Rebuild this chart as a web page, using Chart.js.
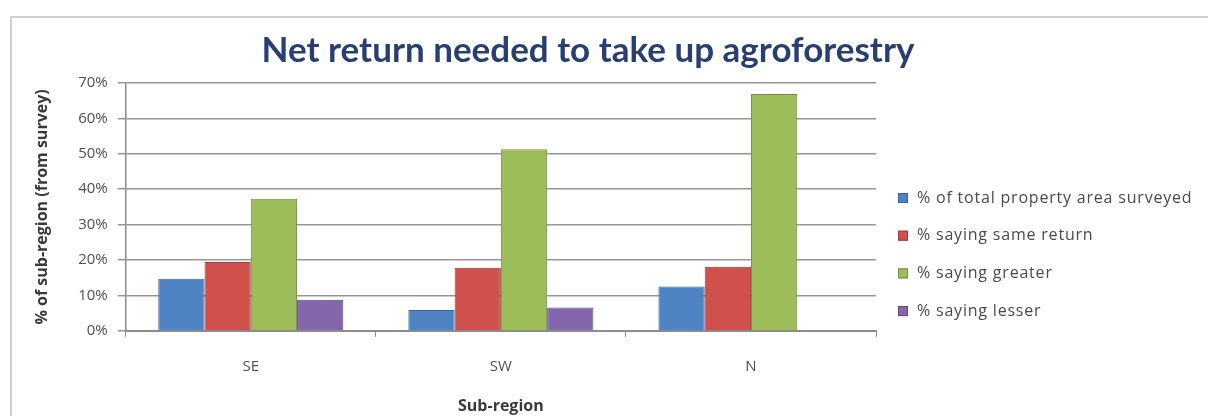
<html>
<head>
<style>
  body { margin: 0; background: #fff; overflow: hidden; }
  #frame { position: absolute; left: 10px; top: 16px; width: 1400px; height: 600px;
           border-left: 2px solid #cfcfcf; border-top: 2px solid #cfcfcf; }
  .chart-container { position: absolute; left: 0; top: 0; width: 1208px; height: 416px; }
</style>
</head>

<body>
<div id="frame"></div>
<div class="chart-container">
  <canvas id="chart"></canvas>
</div>

<script src="https://cdn.jsdelivr.net/npm/chart.js@4/dist/chart.umd.min.js"></script>

<script>
// survey results by sub-region (percent)
const regions = ['SE', 'SW', 'N']
const seriesNames = [
  '% of total property area surveyed',
  '% saying same return',
  '% saying greater',
  '% saying lesser',
]
const areaSurveyed = [14.7, 5.9, 12.5]
const sameReturn = [19.4, 17.8, 18.1]
const greaterReturn = [37.3, 51.3, 66.9]
const lesserReturn = [8.8, 6.6, 0]
const yTicks = [0, 10, 20, 30, 40, 50, 60, 70]

const chartTitle = 'Net return needed to take up agroforestry'

const fills = ['#4f84c4', '#d0504c', '#9cbd59', '#8466ac']
const edges = ['#3b6598', '#9c3c39', '#748f3f', '#604a80']

// title + key drawn by hand so they sit where the old spreadsheet put them
const headerAndKey = {
  id: 'headerAndKey',
  afterDraw(chart) {
    const ctx = chart.ctx
    ctx.save()
    ctx.fillStyle = '#283f70'
    ctx.font = 'bold 35px Lato'
    ctx.textAlign = 'center'
    ctx.textBaseline = 'middle'
    ctx.fillText(chartTitle, 588, 51)

    ctx.font = '16px "Open Sans"'
    ctx.letterSpacing = '0.8px'
    ctx.textAlign = 'left'
    chart.data.datasets.forEach((ds, i) => {
      let y = 198 + i * 37.7
      ctx.fillStyle = ds.backgroundColor
      ctx.fillRect(898, y - 5, 10, 10)
      ctx.strokeStyle = ds.borderColor
      ctx.lineWidth = 1
      ctx.strokeRect(898.5, y - 4.5, 9, 9)
      ctx.fillStyle = '#4a4a4a'
      ctx.fillText(ds.label, 917, y)
    })
    ctx.restore()
  }
}

const seriesData = [areaSurveyed, sameReturn, greaterReturn, lesserReturn]
const datasets = seriesData.map((data, i) => ({
  label: seriesNames[i],
  data,
  backgroundColor: fills[i],
  borderColor: edges[i],
  borderWidth: 1,
  categoryPercentage: 0.74,
  barPercentage: 1.0,
}))

const ctx = document.getElementById('chart').getContext('2d')
new Chart(ctx, {
  type: 'bar',
  data: { labels: regions, datasets },
  plugins: [headerAndKey],
  options: {
    responsive: true,
    maintainAspectRatio: false,
    animation: false,
    layout: { padding: { left: 33, right: 332, top: 83, bottom: 0 } },
    plugins: {
      legend: { display: false },
      title: { display: false },
      tooltip: { enabled: false },
    },
    scales: {
      x: {
        grid: { display: true, drawOnChartArea: false, drawTicks: true, tickLength: 6, color: '#8c8c8c', offset: true },
        border: { display: true, color: '#8c8c8c', width: 2 },
        ticks: { color: '#505050', font: { family: 'Open Sans', size: 15 }, padding: 21 },
        title: {
          display: true, text: 'Sub-region', color: '#3a3a3a',
          font: { family: 'Open Sans', size: 16, weight: 'bold' },
          padding: { top: 0, bottom: 0 },
        },
      },
      y: {
        min: 0,
        max: 70,
        afterBuildTicks(axis) { axis.ticks = yTicks.map(v => ({ value: v })) },
        grid: { color: '#969696', lineWidth: 1.5, tickLength: 8 },
        border: { display: true, color: '#8c8c8c', width: 1.5 },
        ticks: {
          color: '#505050', font: { family: 'Open Sans', size: 15 }, padding: 10,
          callback: v => v + '%',
        },
        title: {
          display: true, text: '% of sub-region (from survey)', color: '#3a3a3a',
          font: { family: 'Open Sans', size: 16, weight: 'bold' },
          padding: { top: 0, bottom: 16 },
        },
      },
    },
  },
})
</script>
</body>
</html>
